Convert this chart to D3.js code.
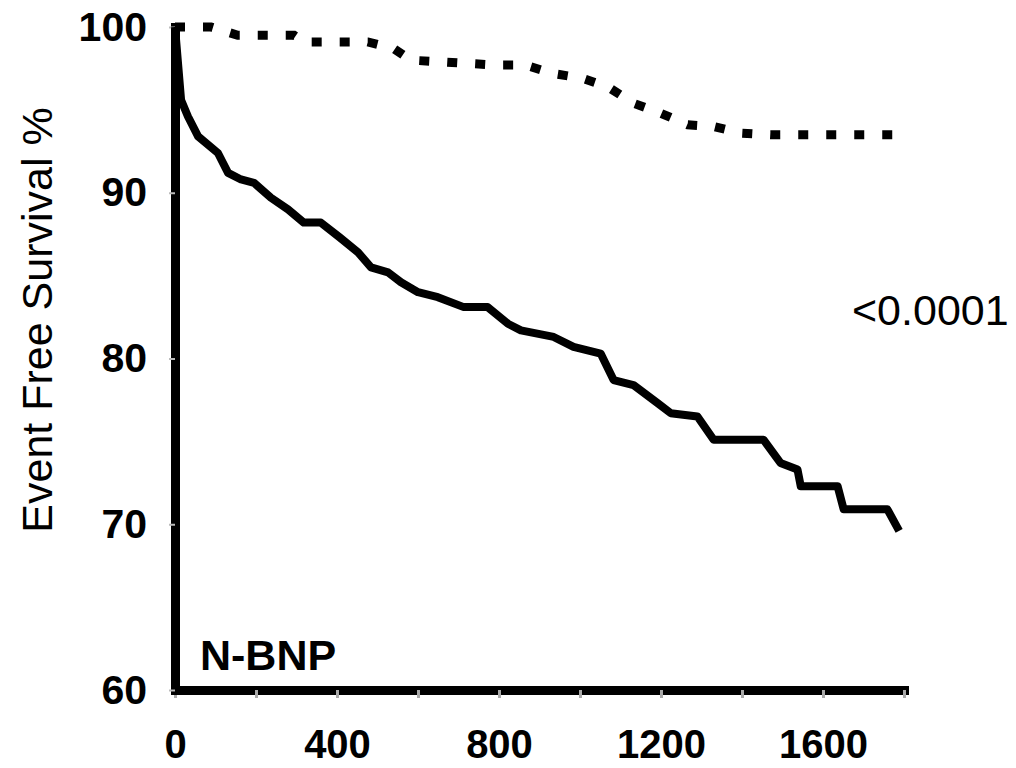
<!doctype html>
<head>
  <meta charset="utf-8">
  <script src="https://cdnjs.cloudflare.com/ajax/libs/d3/7.8.2/d3.min.js"></script>
</head>
<style>
    body { margin: 0; background: white; }
    svg text { font-family: "Liberation Sans", Arial, sans-serif; fill: black; }
</style>
<body>
    <div id="chart"></div>
    <script>
        // Curva sólida (días, % supervivencia libre de eventos)
        const solidDays = [0, 15, 32, 57, 106, 131, 163, 195, 237, 279, 318, 360, 407, 452, 484, 526, 558, 600, 649, 713, 772, 822, 854, 935, 984, 1051, 1083, 1132, 1192, 1224, 1290, 1330, 1453, 1495, 1537, 1545, 1636, 1651, 1759, 1788];
        const solidSurv = [100, 95.6, 94.6, 93.4, 92.4, 91.2, 90.8, 90.6, 89.7, 89.0, 88.2, 88.2, 87.3, 86.4, 85.5, 85.2, 84.6, 84.0, 83.7, 83.1, 83.1, 82.1, 81.7, 81.3, 80.7, 80.3, 78.7, 78.4, 77.3, 76.7, 76.5, 75.1, 75.1, 73.7, 73.3, 72.3, 72.3, 70.9, 70.9, 69.6];

        // Curva punteada
        const dashDays = [0, 89, 155, 294, 318, 476, 540, 582, 656, 797, 866, 932, 1007, 1068, 1132, 1199, 1266, 1330, 1397, 1470, 1795];
        const dashSurv = [100, 100, 99.5, 99.5, 99.1, 99.1, 98.7, 98.0, 97.9, 97.7, 97.7, 97.2, 96.9, 96.4, 95.4, 94.8, 94.1, 94.0, 93.6, 93.5, 93.5];

        const xTicks = [0, 200, 400, 600, 800, 1000, 1200, 1400, 1600, 1800];
        const xLabels = [0, 400, 800, 1200, 1600];
        const yTicks = [60, 70, 80, 90, 100];

        const width = 1016, height = 768;
        const svg = d3.select('#chart').append('svg')
            .attr('width', width)
            .attr('height', height);

        const x = d3.scaleLinear().domain([0, 1800]).range([175, 904]);
        const y = d3.scaleLinear().domain([60, 100]).range([690, 27]);

        // Ejes
        const xAxis = d3.axisBottom(x)
            .tickValues(xTicks)
            .tickSize(8)
            .tickSizeOuter(0)
            .tickFormat(d => xLabels.includes(d) ? d : '');
        const gx = svg.append('g')
            .attr('transform', `translate(0, ${y(60)})`)
            .call(xAxis);
        gx.select('.domain').attr('stroke', 'black').attr('stroke-width', 9).attr('stroke-linecap', 'square');
        gx.selectAll('.tick line').attr('stroke', '#aaa').attr('stroke-width', 3);
        gx.selectAll('.tick text')
            .attr('y', 68).attr('dy', 0)
            .style('font-size', '40px').style('font-weight', 'bold');

        const yAxis = d3.axisLeft(y)
            .tickValues(yTicks)
            .tickSize(6)
            .tickSizeOuter(0)
            .tickFormat(d3.format('d'));
        const gy = svg.append('g')
            .attr('transform', `translate(${x(0)}, 0)`)
            .call(yAxis);
        gy.select('.domain').attr('stroke', 'black').attr('stroke-width', 9).attr('stroke-linecap', 'square');
        gy.selectAll('.tick line').attr('stroke', '#bbb').attr('stroke-width', 2);
        gy.selectAll('.tick text')
            .attr('x', -28)
            .style('font-size', '41px').style('font-weight', 'bold');

        // Líneas
        const line = d3.line()
            .x(d => x(d[0]))
            .y(d => y(d[1]));

        svg.append('path')
            .datum(dashDays.map((d, i) => [d, dashSurv[i]]))
            .attr('d', line)
            .attr('fill', 'none')
            .attr('stroke', 'black')
            .attr('stroke-width', 9)
            .attr('stroke-dasharray', '10 18');

        svg.append('path')
            .datum(solidDays.map((d, i) => [d, solidSurv[i]]))
            .attr('d', line)
            .attr('fill', 'none')
            .attr('stroke', 'black')
            .attr('stroke-width', 8)
            .attr('stroke-linejoin', 'round');

        // Textos
        svg.append('text')
            .attr('transform', `translate(52, ${320}) rotate(-90)`)
            .attr('text-anchor', 'middle')
            .style('font-size', '43px')
            .text('Event Free Survival %');

        svg.append('text')
            .attr('x', 852).attr('y', 325)
            .style('font-size', '43px')
            .text('<0.0001');

        svg.append('text')
            .attr('x', 200).attr('y', 670)
            .style('font-size', '43px').style('font-weight', 'bold')
            .text('N-BNP');
    </script>
</body>
